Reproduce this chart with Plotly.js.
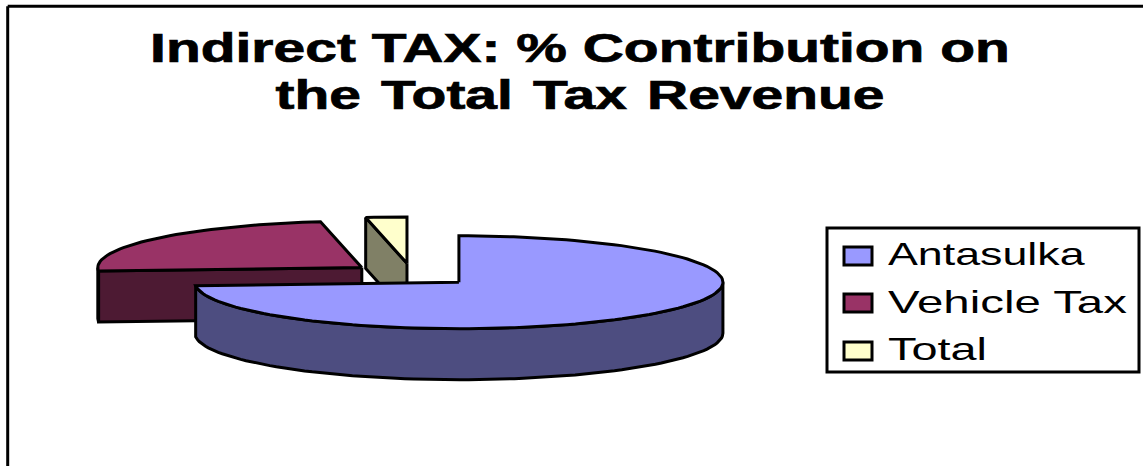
<!DOCTYPE html>
<html>
<head>
<meta charset="utf-8">
<script src="https://cdn.plot.ly/plotly-3.0.1.min.js"></script>
<style>html,body{margin:0;padding:0;background:#fff;overflow:hidden}#chart{width:1143px;height:466px}</style>
</head>
<body>
<div id="chart"></div>
<script>
// Shares of indirect tax in total tax revenue
const categories = ['Antasulka', 'Vehicle Tax', 'Total'];
const shares = [73.8, 23.7, 2.5];
const topColors = ['#9999FF', '#993366', '#FFFFCC'];
const wallColors = ['#4D4D80', '#4D1A33', '#808066'];

// Projection of the tilted pie: units are pie radii
const W = 1143, H = 466, PX = 264;
const centerPx = [412, 274.6];
const tilt = 0.176, depth = 0.193, explode = 0.2424;

const rad = d => d * Math.PI / 180;
const rimX = (c, deg) => c[0] + Math.sin(rad(deg));
const rimY = (c, deg) => c[1] + tilt * Math.cos(rad(deg));
const edge = { color: '#000', width: 3 };

function poly(xs, ys, color, name) {
  return { type: 'scatter', mode: 'lines', x: xs.concat(xs[0]), y: ys.concat(ys[0]),
           fill: 'toself', fillcolor: color, line: edge, name: name,
           showlegend: false, hoverinfo: 'name' };
}
function arc(from, to) {
  const out = [];
  const n = Math.max(2, Math.ceil(Math.abs(to - from) / 2));
  for (let i = 0; i <= n; i++) out.push(from + (to - from) * i / n);
  return out;
}

// Turn the shares into angular spans, each pulled out along its bisector
const total = shares.reduce((a, b) => a + b, 0);
let running = 0;
const slices = shares.map((v, i) => {
  const from = running, to = running + v / total * 360;
  running = to;
  const mid = (from + to) / 2;
  return { i, from, to, c: [explode * Math.sin(rad(mid)), explode * tilt * Math.cos(rad(mid))] };
});

// Back slices first, so nearer ones paint over them
const traces = [];
slices.slice().sort((a, b) => b.c[1] - a.c[1]).forEach(s => {
  const name = categories[s.i], wall = wallColors[s.i], c = s.c;
  // Cut faces that turn towards the viewer
  [[s.from, s.from - 90], [s.to, s.to + 90]].forEach(([deg, normal]) => {
    if (Math.cos(rad(normal)) < -1e-6) {
      const px = rimX(c, deg), py = rimY(c, deg);
      traces.push(poly([c[0], px, px, c[0]], [c[1], py, py - depth, c[1] - depth], wall, name));
    }
  });
  // Outer wall on the near half of the rim
  const a = Math.max(s.from, 90), b = Math.min(s.to, 270);
  if (b > a) {
    const t = arc(a, b);
    traces.push(poly(
      t.map(d => rimX(c, d)).concat(t.slice().reverse().map(d => rimX(c, d))),
      t.map(d => rimY(c, d)).concat(t.slice().reverse().map(d => rimY(c, d) - depth)),
      wall, name));
  }
  // Top face
  const t = arc(s.from, s.to);
  traces.push(poly([c[0]].concat(t.map(d => rimX(c, d))),
                   [c[1]].concat(t.map(d => rimY(c, d))), topColors[s.i], name));
});

// Key box, swatches and chart frame live in pixel-based paper coordinates
const px = x => x / W, py = y => 1 - y / H;
const box = (x0, y0, x1, y1, fill) => ({ type: 'rect', xref: 'paper', yref: 'paper',
  x0: px(x0), x1: px(x1), y0: py(y0), y1: py(y1), fillcolor: fill, line: edge });
const seg = (x0, y0, x1, y1) => ({ type: 'line', xref: 'paper', yref: 'paper',
  x0: px(x0), x1: px(x1), y0: py(y0), y1: py(y1), line: edge });

const swatchTops = [247, 294, 342];
const labelRows = [254, 302, 349];
const labelWidths = [197, 239, 99];
const shapes = [seg(7.7, 6.3, 1143, 6.3), seg(7.7, 6.3, 7.7, 466), box(827, 228, 1139, 372, '#fff')]
  .concat(swatchTops.map((y, i) => box(844, y, 872, y + 18, topColors[i])));
const annotations = categories.map((c, i) => ({
  xref: 'paper', yref: 'paper', x: px(886), y: py(labelRows[i]), xanchor: 'left', yanchor: 'middle',
  showarrow: false, align: 'left', text: c,
  font: { family: 'Liberation Sans, Arial, sans-serif', size: 32, color: '#000' }
}));

const layout = {
  width: W, height: H, margin: { l: 0, r: 0, t: 0, b: 0 },
  paper_bgcolor: '#fff', plot_bgcolor: '#fff', showlegend: false,
  title: { text: 'Indirect TAX: % Contribution on<br>the Total Tax Revenue',
           x: 580 / W, xanchor: 'center', y: 1 - 62 / H, yanchor: 'auto',
           font: { family: 'Liberation Sans, Arial, sans-serif', size: 40, color: '#000', weight: 700 } },
  xaxis: { visible: false, fixedrange: true, range: [-centerPx[0] / PX, (W - centerPx[0]) / PX] },
  yaxis: { visible: false, fixedrange: true, range: [-(H - centerPx[1]) / PX, centerPx[1] / PX] },
  shapes, annotations
};

// Widen a text element horizontally about its left edge or centre
function widen(el, width, centred) {
  const b = el.getBBox(), s = width / b.width;
  const pivot = centred ? b.x + b.width / 2 : b.x;
  el.setAttribute('transform', `translate(${pivot * (1 - s)},0) scale(${s},1)`);
}

Plotly.newPlot('chart', traces, layout, { staticPlot: true, displayModeBar: false }).then(gd => {
  const title = gd.querySelector('.gtitle');
  if (title) {
    // Title baselines sit closer than the default line height
    title.removeAttribute('dy');
    const lines = title.querySelectorAll('.line');
    [62, 109].forEach((y, i) => {
      if (lines[i]) { lines[i].removeAttribute('dy'); lines[i].setAttribute('y', y); }
    });
    if (lines[1]) lines[1].style.wordSpacing = '3px';
    title.setAttribute('y', 62);
    title.style.stroke = '#000';
    title.style.strokeWidth = '0.7px';
    widen(title, 860, true);
  }
  gd.querySelectorAll('.annotation-text').forEach((el, i) => widen(el, labelWidths[i], false));
});
</script>
</body>
</html>
